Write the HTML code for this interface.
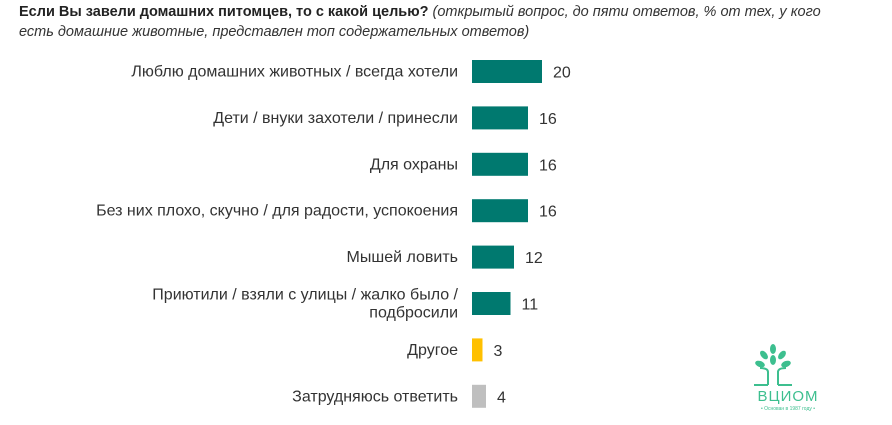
<!DOCTYPE html>
<html><head><meta charset="utf-8"><style>
body{margin:0;width:892px;height:425px;background:#fff;overflow:hidden;font-family:"Liberation Sans",sans-serif;position:relative}
#title{position:absolute;left:19px;top:2px;width:815px;font-size:14.5px;line-height:20px;color:#222}
#title b{font-weight:bold}#title i{color:#333}
svg{position:absolute;left:0;top:0}
</style></head><body>
<div id="title"><b>Если Вы завели домашних питомцев, то с какой целью?</b> <i>(открытый вопрос, до пяти ответов, % от тех, у кого есть домашние животные, представлен топ содержательных ответов)</i></div>
<svg id="chart" width="892" height="425"></svg>
<script>
const categories=[["Люблю домашних животных / всегда хотели"],["Дети / внуки захотели / принесли"],["Для охраны"],["Без них плохо, скучно / для радости, успокоения"],["Мышей ловить"],["Приютили / взяли с улицы / жалко было /","подбросили"],["Другое"],["Затрудняюсь ответить"]];
const values=[20,16,16,16,12,11,3,4];
const colors=["#00796f","#00796f","#00796f","#00796f","#00796f","#00796f","#ffc000","#bfbfbf"];
const NS="http://www.w3.org/2000/svg";
const svg=document.getElementById("chart");
const x0=472, scale=3.5, y0=71.5, step=46.4, bh=23;
const xs=v=>v*scale, ys=i=>y0+i*step;
function mk(t,a){const e=document.createElementNS(NS,t);for(const k in a)e.setAttribute(k,a[k]);svg.appendChild(e);return e;}
values.forEach((v,i)=>{
 const cy=ys(i);
 const r=mk("rect",{x:x0,y:cy-bh/2,width:xs(v),height:bh,fill:colors[i]});
 
 
 const t=mk("text",{x:x0+xs(v)+11,y:cy+6,"font-size":16,fill:"#333"});
 t.textContent=v;
 
 
 const lines=categories[i];
 lines.forEach((ln,j)=>{
  const l=mk("text",{x:458,y:cy+5+(j-(lines.length-1)/2)*18,"text-anchor":"end","font-size":16,fill:"#333"});
  l.textContent=ln;
  
  
 });
});
</script>
<svg width="892" height="425">
<g stroke="#3dbf8f" fill="none" stroke-width="2">
<path d="M768 385 V372 Q768 368 760 368 M778 385 V372 Q778 368 786 368"/>
<path d="M768 385 H754 M778 385 H792"/>
</g>
<g fill="#3dbf8f">
<ellipse cx="773" cy="349" rx="3" ry="5"/><ellipse cx="764" cy="355" rx="3" ry="5" transform="rotate(-40 764 355)"/><ellipse cx="782" cy="355" rx="3" ry="5" transform="rotate(40 782 355)"/>
<ellipse cx="760" cy="364" rx="3" ry="5" transform="rotate(-70 760 364)"/><ellipse cx="786" cy="364" rx="3" ry="5" transform="rotate(70 786 364)"/><ellipse cx="773" cy="360" rx="3" ry="5"/>
</g>
<text x="788" y="401" text-anchor="middle" font-size="15" fill="#3dbf8f" font-family="Liberation Sans" letter-spacing="1">ВЦИОМ</text>
<text x="788" y="410" text-anchor="middle" font-size="5" fill="#3dbf8f" font-family="Liberation Sans">• Основан в 1987 году •</text>
</svg>
</body></html>
